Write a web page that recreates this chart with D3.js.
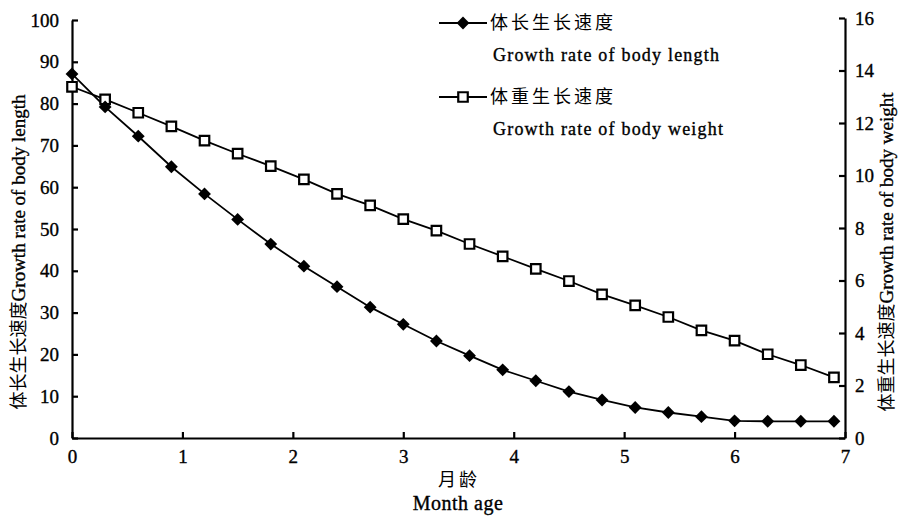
<!DOCTYPE html>
<html>
<head>
<meta charset="utf-8">
<script src="https://cdn.jsdelivr.net/npm/d3@7"></script>
<style>
  body { margin: 0; background: #fff; }
  svg text { font-family: "Liberation Serif", "Times New Roman", serif; fill: #000; stroke: #000; stroke-width: 0.35px; }
  .cjk { font-family: "Noto Sans CJK SC", sans-serif; stroke-width: 0; }
  .axis path, .axis line { stroke: #000; stroke-width: 2.2; }
</style>
</head>
<body>
<svg id="chart" width="899" height="516"></svg>
<script>
// month age (x) shared by both series
const months = [0, 0.3, 0.6, 0.9, 1.2, 1.5, 1.8, 2.1, 2.4, 2.7, 3.0, 3.3,
  3.6, 3.9, 4.2, 4.5, 4.8, 5.1, 5.4, 5.7, 6.0, 6.3, 6.6, 6.9];
// body length growth rate (left axis)
const lengthRate = [87.1, 79.2, 72.2, 64.9, 58.4, 52.3, 46.4, 41.1, 36.2, 31.3, 27.2, 23.2,
  19.7, 16.3, 13.7, 11.1, 9.1, 7.3, 6.1, 5.1, 4.1, 4.0, 4.0, 4.0];
// body weight growth rate (right axis)
const weightRate = [13.38, 12.9, 12.39, 11.87, 11.33, 10.83, 10.36, 9.85, 9.30, 8.86, 8.34, 7.90,
  7.39, 6.92, 6.44, 5.98, 5.47, 5.05, 4.61, 4.10, 3.71, 3.19, 2.78, 2.31];
const xTicks = [0, 1, 2, 3, 4, 5, 6, 7];
const leftTicks = [0, 10, 20, 30, 40, 50, 60, 70, 80, 90, 100];
const rightTicks = [0, 2, 4, 6, 8, 10, 12, 14, 16];

const d3svg = d3.select('#chart');
const margin = { left: 72, right: 54, top: 20, bottom: 78 };
const width = 899 - margin.right;
const height = 516 - margin.bottom;

const xScale = d3.scaleLinear().domain([0, 7]).range([margin.left, width]);
const yLeft = d3.scaleLinear().domain([0, 100]).range([height, margin.top]);
const yRight = d3.scaleLinear().domain([0, 16]).range([height, margin.top - 2]);

// axes
d3svg.append('g')
  .attr('class', 'axis')
  .attr('transform', `translate(0,${height})`)
  .call(d3.axisBottom(xScale).tickValues(xTicks).tickFormat(d3.format('d'))
    .tickSize(-6).tickSizeOuter(0).tickPadding(12))
  .call(g => g.selectAll('text').style('font-size', '19px'));

d3svg.append('g')
  .attr('class', 'axis')
  .attr('transform', `translate(${margin.left},0)`)
  .call(d3.axisLeft(yLeft).tickValues(leftTicks).tickSize(-6).tickSizeOuter(0).tickPadding(13))
  .call(g => g.selectAll('text').style('font-size', '19px'));

d3svg.append('g')
  .attr('class', 'axis')
  .attr('transform', `translate(${width},0)`)
  .call(d3.axisRight(yRight).tickValues(rightTicks).tickSize(-6).tickSizeOuter(0).tickPadding(10))
  .call(g => g.selectAll('text').style('font-size', '19px'));

// axis titles
const xTitle = d3svg.append('g');
xTitle.append('text')
  .attr('class', 'cjk')
  .attr('x', 459).attr('y', 480)
  .attr('dy', '0.35em')
  .attr('text-anchor', 'middle')
  .style('font-size', '18px')
  .style('letter-spacing', '3px')
  .text('月龄');
xTitle.append('text')
  .attr('x', 458).attr('y', 503)
  .attr('dy', '0.35em')
  .attr('text-anchor', 'middle')
  .style('font-size', '20px')
  .style('letter-spacing', '0.5px')
  .text('Month age');

function sideTitle(x, cn, en) {
  const t = d3svg.append('text')
    .attr('transform', `translate(${x},252) rotate(-90)`)
    .attr('text-anchor', 'middle')
    .attr('dy', '0.35em')
    .style('font-size', '19px');
  t.append('tspan').attr('class', 'cjk').style('font-size', '18px').text(cn);
  t.append('tspan').text(en);
}
sideTitle(18, '体长生长速度', 'Growth rate of body length');
sideTitle(886, '体重生长速度', 'Growth rate of body weight');

// series
const lengthData = months.map((m, i) => ({ m, v: lengthRate[i] }));
const weightData = months.map((m, i) => ({ m, v: weightRate[i] }));

const lineL = d3.line().x(d => xScale(d.m)).y(d => yLeft(d.v));
const lineW = d3.line().x(d => xScale(d.m)).y(d => yRight(d.v));

d3svg.append('path')
  .datum(weightData)
  .attr('d', lineW)
  .attr('fill', 'none')
  .attr('stroke', '#000')
  .attr('stroke-width', 1.8);

d3svg.append('path')
  .datum(lengthData)
  .attr('d', lineL)
  .attr('fill', 'none')
  .attr('stroke', '#000')
  .attr('stroke-width', 1.8);

const diamond = d3.symbol().type(d3.symbolDiamond2).size(105);
const square = d3.symbol().type(d3.symbolSquare2).size(115);

d3svg.selectAll('.pt-w')
  .data(weightData)
  .enter()
  .append('path')
  .attr('class', 'pt-w')
  .attr('d', square)
  .attr('transform', d => `translate(${xScale(d.m)},${yRight(d.v)})`)
  .attr('fill', '#fff')
  .attr('stroke', '#000')
  .attr('stroke-width', 2.2);

d3svg.selectAll('.pt-l')
  .data(lengthData)
  .enter()
  .append('path')
  .attr('class', 'pt-l')
  .attr('d', diamond)
  .attr('transform', d => `translate(${xScale(d.m)},${yLeft(d.v)})`)
  .attr('fill', '#000');

// legend
const legends = d3svg.append('g').attr('class', 'legends');
const legendItems = [
  { y: 23, cn: '体长生长速度', en: 'Growth rate of body length', sym: diamond, fill: '#000' },
  { y: 97, cn: '体重生长速度', en: 'Growth rate of body weight', sym: square, fill: '#fff' }
];
legendItems.forEach(item => {
  legends.append('line')
    .attr('x1', 439).attr('x2', 487)
    .attr('y1', item.y).attr('y2', item.y)
    .attr('stroke', '#000').attr('stroke-width', 1.8);
  legends.append('path')
    .attr('d', item.sym)
    .attr('transform', `translate(463,${item.y})`)
    .attr('fill', item.fill)
    .attr('stroke', item.fill === '#fff' ? '#000' : 'none')
    .attr('stroke-width', 2.2);
  legends.append('text')
    .attr('class', 'cjk')
    .attr('x', 490).attr('y', item.y)
    .attr('dy', '0.35em')
    .style('font-size', '18px')
    .style('letter-spacing', '3px')
    .text(item.cn);
  legends.append('text')
    .attr('x', 493).attr('y', item.y + 32)
    .attr('dy', '0.35em')
    .style('font-size', '18px')
    .style('letter-spacing', '1.2px')
    .text(item.en);
});
</script>
</body>
</html>
